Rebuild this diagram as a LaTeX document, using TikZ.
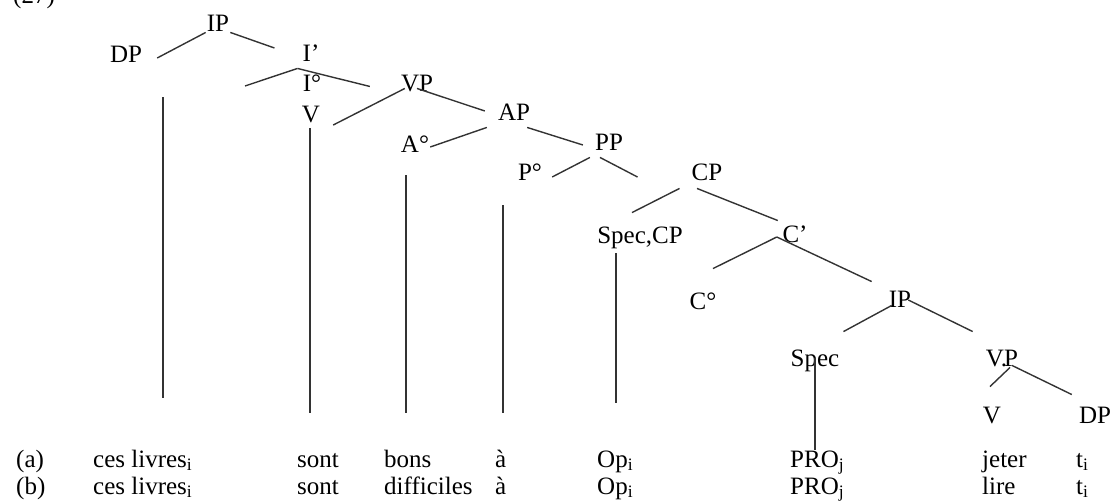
\documentclass[tikz,border=0pt]{standalone}
\usepackage{fontspec}
\setmainfont{Liberation Serif}
\begin{document}
\begin{tikzpicture}[x=1pt, y=-1pt, every node/.style={font=\fontsize{25}{30}\selectfont}]

      \tikzstyle{Cat}=[inner sep=1pt, text height=16.5pt, text depth=0pt];
      \tikzstyle{Mot}=[anchor=base west, inner sep=0pt];
      \tikzstyle{Br}=[line width=1.4pt, draw=black!80];

      \useasboundingbox (0,0) rectangle (1119,501);

        \node[Mot](Num) at (13,3) {(27)};

        % matrix clause
        \node[Cat](IPa) at (218,23) {IP};
        \node[Cat](DPa) at (126,54) {DP};
        \node[Cat](Ibar) at (311,53) {I'};
        \node[Cat](Inot) at (312,83) {I°};
        \node[Cat](Va) at (311,114) {V};
        \node[Cat](VPa) at (417,83) {VP};
        \node[Cat](AP) at (514,112) {AP};
        \node[Cat](Anot) at (415,144) {A°};
        \node[Cat](PP) at (609,142) {PP};
        \node[Cat](Pnot) at (530,172) {P°};
        \node[Cat](CP) at (707,172) {CP};
        \node[Cat](SpecCP) at (640,235) {Spec,CP};
        \node[Cat](Cbar) at (795,234) {C'};
        \node[Cat](Cnot) at (703,301) {C°};

        % embedded clause
        \node[Cat](IPb) at (900,299) {IP};
        \node[Cat](Spec) at (815,358) {Spec};
        \node[Cat](VPb) at (1002,358) {V\kern-3pt.\kern-3pt P};
        \node[Cat](Vb) at (992,415) {V};
        \node[Cat](DPb) at (1095,415) {DP};

        % (a) and (b)
        \node[Mot](La) at (16,467) {(a)};
        \node[Mot](CesA) at (93,467) {ces livres\textsubscript{i}};
        \node[Mot](SontA) at (297,467) {sont};
        \node[Mot](Bons) at (384,467) {bons};
        \node[Mot](AA) at (495,467) {à};
        \node[Mot](OpA) at (597,467) {Op\textsubscript{i}};
        \node[Mot](ProA) at (790,467) {PRO\textsubscript{j}};
        \node[Mot](Jeter) at (982,467) {jeter};
        \node[Mot](TA) at (1076,467) {t\textsubscript{i}};

        \node[Mot](Lb) at (16,494) {(b)};
        \node[Mot](CesB) at (93,494) {ces livres\textsubscript{i}};
        \node[Mot](SontB) at (297,494) {sont};
        \node[Mot](Diff) at (384,494) {difficiles};
        \node[Mot](AB) at (495,494) {à};
        \node[Mot](OpB) at (597,494) {Op\textsubscript{i}};
        \node[Mot](ProB) at (790,494) {PRO\textsubscript{j}};
        \node[Mot](Lire) at (982,494) {lire};
        \node[Mot](TB) at (1076,494) {t\textsubscript{i}};

        \coordinate (Iapex) at ([xshift=-4pt,yshift=-6pt]Ibar.south west);
        \coordinate (Idang) at (245,86);
        \coordinate (Capex) at ([xshift=-4.5pt,yshift=-3pt]Cbar.west);

        \draw[Br] (IPa.south west) -- ([xshift=14pt,yshift=-4pt]DPa.east);
        \draw[Br] (IPa.south east) -- ([xshift=-27pt,yshift=5pt]Ibar.west);
        \draw[Br] (Iapex) -- (Idang);
        \draw[Br] (Iapex) -- ([xshift=-30pt,yshift=6pt]VPa.south west);
        \draw[Br] ([xshift=5pt,yshift=4pt]VPa.south west) -- ([xshift=12pt,yshift=-11pt]Va.east);
        \draw[Br] ([yshift=4pt]VPa.south) -- ([xshift=-12pt,yshift=1pt]AP.west);
        \draw[Br] ([xshift=-10pt,yshift=-6pt]AP.south west) -- ([yshift=-3pt]Anot.east);
        \draw[Br] ([xshift=-4pt,yshift=-6pt]AP.south east) -- ([xshift=-11pt,yshift=-3pt]PP.west);
        \draw[Br] ([xshift=-4pt,yshift=-6pt]PP.south west) -- ([xshift=9pt,yshift=-5pt]Pnot.east);
        \draw[Br] ([xshift=-9pt,yshift=-6pt]PP.south) -- ([xshift=-53pt,yshift=-5pt]CP.west);
        \draw[Br] ([xshift=-11pt,yshift=-7pt]CP.south west) -- ([xshift=-8pt,yshift=13pt]SpecCP.north);
        \draw[Br] ([xshift=-10pt,yshift=-7pt]CP.south) -- ([xshift=-3.5pt,yshift=4pt]Cbar.north west);
        \draw[Br] (Capex) -- ([xshift=10pt,yshift=23pt]Cnot.north);
        \draw[Br] (Capex) -- ([xshift=-16pt,yshift=8pt]IPb.north west);
        \draw[Br] ([xshift=4pt,yshift=3pt]IPb.south west) -- ([xshift=3pt,yshift=17pt]Spec.north east);
        \draw[Br] ([xshift=-4pt,yshift=-1pt]IPb.east) -- ([xshift=-12pt,yshift=17pt]VPb.north west);
        \draw[Br] ([xshift=8pt]VPb.south) -- ([xshift=-2pt,yshift=19pt]Vb.north);
        \draw[Br] ([xshift=10pt,yshift=2pt]VPb.south) -- ([xshift=-6pt,yshift=11pt]DPb.north west);

        % long lines down to the words
        \coordinate (Foot1) at (163,398);
        \coordinate (Foot2) at (310,413);
        \coordinate (Foot3) at (406,413);
        \coordinate (Foot4) at (503,413);
        \coordinate (Foot5) at (616,403);
        \draw[Br] (DPa.south -| Foot1) ++(0,34) -- (Foot1);
        \draw[Br] (Va.south -| Foot2) ++(0,5) -- (Foot2);
        \draw[Br] (Anot.south -| Foot3) ++(0,22) -- (Foot3);
        \draw[Br] (Pnot.south -| Foot4) ++(0,24) -- (Foot4);
        \draw[Br] (SpecCP.south -| Foot5) ++(0,9) -- (Foot5);
        \draw[Br] (Spec.center) -- (Spec.center |- ProA.north);

    \end{tikzpicture}
\end{document}
